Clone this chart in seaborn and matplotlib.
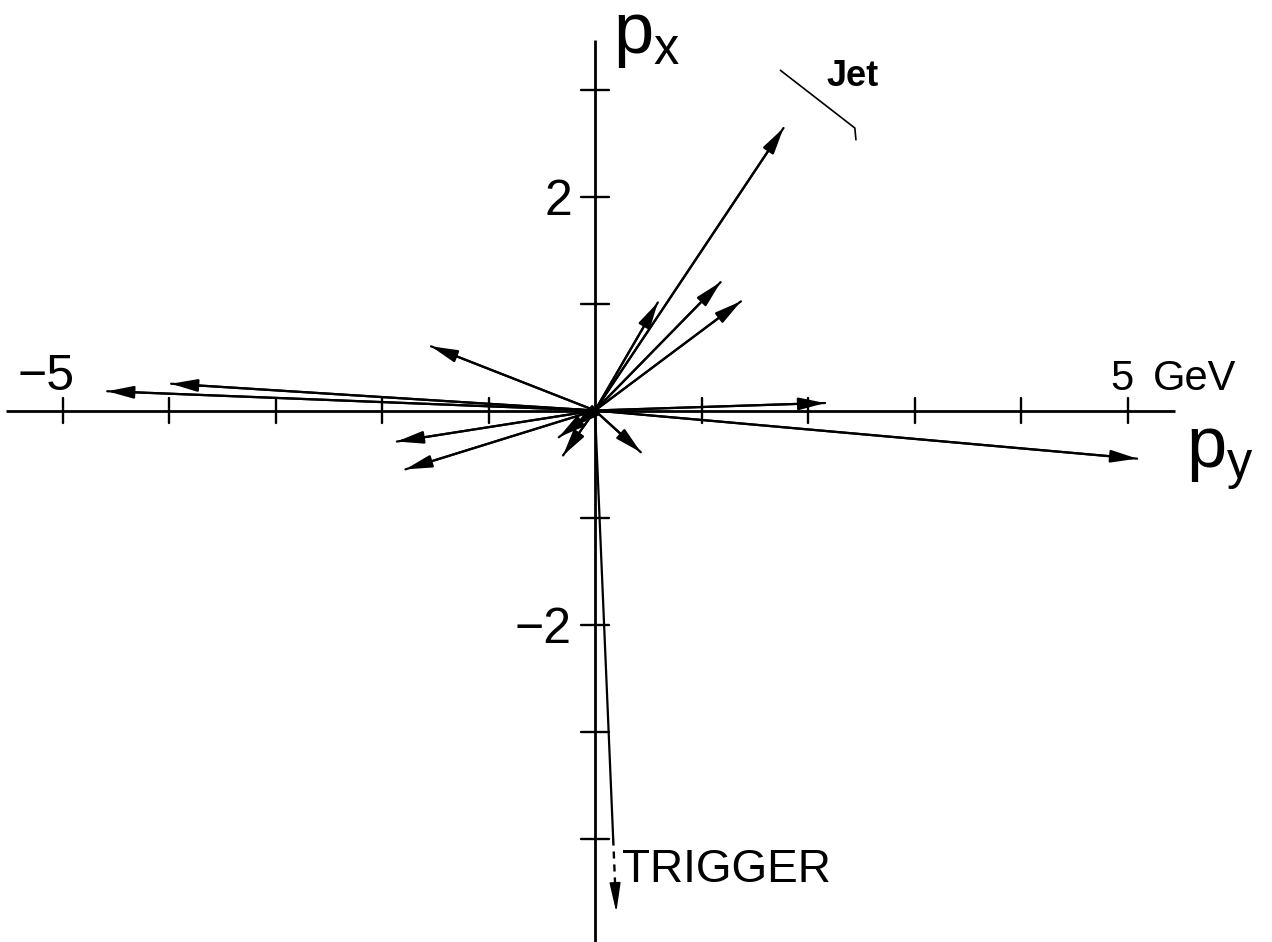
import matplotlib
matplotlib.use("Agg")
import matplotlib.pyplot as plt
import seaborn as sns
import pandas as pd
import numpy as np

# ---- data (GeV): horizontal = p_y, vertical = p_x ----
track_py = [1.77, 0.59, 1.18, 1.37, -1.54, -4.58, -3.98, -1.86, -1.78, -0.30, -0.34, -0.20, 0.43, 2.16, 5.09]
track_px = [2.64, 1.01, 1.20, 1.02, 0.60, 0.18, 0.25, -0.29, -0.55, -0.42, -0.25, -0.15, -0.39, 0.07, -0.45]
trigger_py = 0.20
trigger_px = -4.69
trigger_dash_from_px = -4.0
jet_line_py = [1.74, 2.44, 2.45]
jet_line_px = [3.18, 2.64, 2.53]
py_ticks = [-5, -4, -3, -2, -1, 1, 2, 3, 4, 5]
px_ticks = [-4, -3, -2, -1, 1, 2, 3]

sns.set_theme(style="white")
plt.rcParams["font.family"] = ["Liberation Sans", "DejaVu Sans"]
plt.rcParams["text.color"] = "black"
plt.rcParams["mathtext.fontset"] = "custom"
plt.rcParams["mathtext.rm"] = "Liberation Sans"

fig = plt.figure(figsize=(12.72, 9.42), dpi=100)
ax = fig.add_axes([0, 0, 1, 1])
ax.set_xlim(-595 / 106.5, (1272 - 595) / 106.5)
ax.set_ylim((410.5 - 942) / 107, 410.5 / 107)
ax.axis("off")

# coordinate axes
ax.plot([-5.53, 5.45], [0, 0], color="black", lw=2.0, solid_capstyle="butt")
ax.plot([0, 0], [3.46, -5.2], color="black", lw=2.0, solid_capstyle="butt")
for t in py_ticks:
    ax.plot([t, t], [-0.12, 0.12], color="black", lw=1.7)
for t in px_ticks:
    ax.plot([-0.13, 0.13], [t, t], color="black", lw=1.7)

# track shafts via seaborn
rows = []
for i, (a, b) in enumerate(zip(track_py, track_px)):
    rows.append({"track": i, "order": 0, "py": 0.0, "px": 0.0})
    rows.append({"track": i, "order": 1, "py": a, "px": b})
df = pd.DataFrame(rows)
sns.lineplot(data=df, x="py", y="px", units="track", estimator=None, sort=False,
             color="black", lw=1.6, ax=ax, legend=False)

# arrow heads
for a, b in zip(track_py, track_px):
    ax.annotate("", xy=(a, b), xytext=(0, 0),
                arrowprops=dict(arrowstyle="-|>,head_length=0.8,head_width=0.19",
                                color="black", lw=1.6, shrinkA=0, shrinkB=0,
                                mutation_scale=20))

# trigger: solid then dashed with arrow head
frac = trigger_dash_from_px / trigger_px
ax.plot([0, trigger_py * frac], [0, trigger_dash_from_px], color="black", lw=1.6)
frac2 = -4.46 / trigger_px
ax.plot([trigger_py * frac, trigger_py * frac2], [trigger_dash_from_px, -4.46],
        color="black", lw=1.7, dashes=(3, 2.5))
ax.annotate("", xy=(trigger_py, trigger_px), xytext=(trigger_py * frac2, -4.46),
            arrowprops=dict(arrowstyle="-|>,head_length=0.9,head_width=0.17",
                            color="black", lw=1.2, shrinkA=0, shrinkB=0,
                            mutation_scale=20))

# jet axis line
ax.plot(jet_line_py, jet_line_px, color="black", lw=1.2)

# labels
num_fs = 36
ax.text(-4.89, 0.19, "\u22125", fontsize=num_fs, ha="right", va="baseline")
ax.text(4.95, 0.19, "5", fontsize=30, ha="center", va="baseline")
ax.text(5.24, 0.19, "GeV", fontsize=30, ha="left", va="baseline")
ax.text(-0.216, 1.83, "2", fontsize=num_fs, ha="right", va="baseline")
ax.text(-0.216, -2.17, "\u22122", fontsize=num_fs, ha="right", va="baseline")

# axis names
ax.text(0.17, 3.34, r"$\mathrm{p_x}$", fontsize=52, ha="left", va="baseline")
ax.text(5.55, -0.53, r"$\mathrm{p_y}$", fontsize=52, ha="left", va="baseline")

ax.text(2.17, 3.03, "Jet", fontsize=26, fontweight="bold", ha="left", va="baseline")
ax.text(0.25, -4.41, "TRIGGER", fontsize=33, ha="left", va="baseline")

fig.savefig("out.png", dpi=100, facecolor="white")
